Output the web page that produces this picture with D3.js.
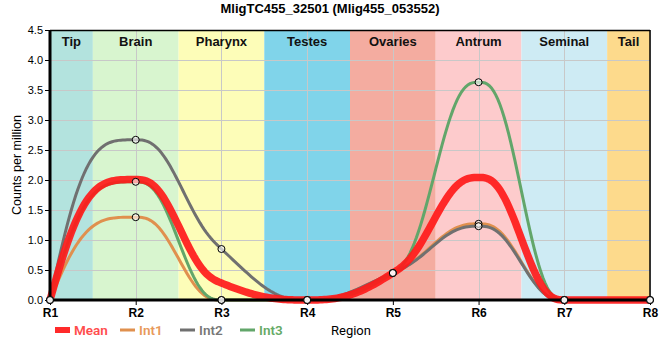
<!DOCTYPE html>
<html><head><meta charset="utf-8">
<script src="https://cdn.jsdelivr.net/npm/d3@7"></script>
<style>body{margin:0;background:#fff;} svg{display:block;font-family:"Liberation Sans",Arial,sans-serif;}</style>
</head><body><svg id="c" width="660" height="360"></svg>
<script>
const title = "MligTC455_32501 (Mlig455_053552)";
const regions = ["R1","R2","R3","R4","R5","R6","R7","R8"];
const tissues = ["Tip","Brain","Pharynx","Testes","Ovaries","Antrum","Seminal","Tail"];
const tissueColors = ["#b3e3de","#d8f5cf","#fdfdb8","#80d4ea","#f4aca0","#fdcbcc","#ceebf4","#fdda8c"];
const yTicks = [0,0.5,1,1.5,2,2.5,3,3.5,4,4.5];
const meanVals = [0,2.007,0.283,0,0.45,2.043,0,0];
const int1Vals = [0,1.38,0,0,0.45,1.27,0,0];
const int2Vals = [0,2.67,0.85,0,0.45,1.23,0,0];
const int3Vals = [0,1.97,0,0,0.45,3.63,0,0];
const seriesNames = ["Mean","Int1","Int2","Int3"];

const svg = d3.select("#c");
const L=50,R=650,T=30,B=300;
const x = d3.scaleLinear().domain([0,regions.length-1]).range([L,R]);
const y = d3.scaleLinear().domain([0,4.5]).range([B,T]);

// smooth monotone-style interpolation (quintic Hermite, zero curvature at knots)
function curveSmooth(ctx){
  let pts;
  return {
    areaStart(){}, areaEnd(){},
    lineStart(){pts=[];},
    point(px,py){pts.push([+px,+py]);},
    lineEnd(){
      const n=pts.length; if(!n) return;
      const s=[],m=new Array(n).fill(0);
      for(let i=0;i<n-1;i++) s.push((pts[i+1][1]-pts[i][1])/(pts[i+1][0]-pts[i][0]));
      const sg=v=>v<0?-1:1;
      for(let i=1;i<n-1;i++){
        const h0=pts[i][0]-pts[i-1][0],h1=pts[i+1][0]-pts[i][0];
        const s0=s[i-1],s1=s[i],p=(s0*h1+s1*h0)/(h0+h1);
        m[i]=(sg(s0)+sg(s1))*Math.min(Math.abs(s0),Math.abs(s1),0.5*Math.abs(p))||0;
      }
      m[0]=2.5*s[0]; m[n-1]=2.5*s[n-2];
      ctx.moveTo(pts[0][0],pts[0][1]);
      const N=40;
      for(let i=0;i<n-1;i++){
        const x0=pts[i][0],x1=pts[i+1][0],y0=pts[i][1],y1=pts[i+1][1],h=x1-x0;
        for(let k=1;k<=N;k++){
          const t=k/N,t3=t*t*t,t4=t3*t,t5=t4*t;
          const H0=1-10*t3+15*t4-6*t5, H5=10*t3-15*t4+6*t5;
          const H1=t-6*t3+8*t4-3*t5, H4=-4*t3+7*t4-3*t5;
          ctx.lineTo(x0+h*t, H0*y0+H5*y1+h*(H1*m[i]+H4*m[i+1]));
        }
      }
    }
  };
}

// bands
const bands = tissues.map((t,i)=>({t,c:tissueColors[i],a:Math.max(0,i-0.5),b:Math.min(regions.length-1,i+0.5)}));
svg.append("g").selectAll("rect").data(bands).join("rect")
  .attr("x",d=>x(d.a)).attr("y",T).attr("width",d=>x(d.b)-x(d.a)).attr("height",B-T).attr("fill",d=>d.c);

// grid
const g = svg.append("g").attr("stroke","#c8c8c8").attr("stroke-width",1);
g.selectAll(".h").data(yTicks).join("line").attr("x1",L).attr("x2",R).attr("y1",d=>y(d)+0.5).attr("y2",d=>y(d)+0.5);
g.selectAll(".v").data(regions.map((r,i)=>i)).join("line").attr("y1",T).attr("y2",B).attr("x1",d=>Math.round(x(d))+0.5).attr("x2",d=>Math.round(x(d))+0.5);

// band labels
svg.append("g").selectAll("text").data(bands).join("text")
  .attr("x",d=>x((d.a+d.b)/2)).attr("y",T+16).attr("text-anchor","middle")
  .attr("font-size",13).attr("font-weight","bold").attr("fill","#111").text(d=>d.t);

// lines
const line = d3.line().x((d,i)=>x(i)).y(d=>y(d)).curve(curveSmooth);
const ints = [
  {v:int1Vals,c:"#e0904e"},
  {v:int2Vals,c:"#707070"},
  {v:int3Vals,c:"#62a66a"}
];
svg.append("g").selectAll("path").data(ints).join("path")
  .attr("d",d=>line(d.v)).attr("fill","none").attr("stroke",d=>d.c).attr("stroke-width",3);
svg.append("path").attr("d",line(meanVals)).attr("fill","none").attr("stroke","#ff1a1a").attr("stroke-opacity",0.92).attr("stroke-width",7.5);

// axes
const ya = svg.append("g").attr("transform",`translate(${L},0)`)
  .call(d3.axisLeft(y).tickValues(yTicks).tickFormat(d3.format(".1f")).tickSize(5).tickPadding(2));
ya.select(".domain").remove();
ya.selectAll("text").attr("font-size",11).attr("fill","#000").attr("font-family","Liberation Sans, Arial");
const xa = svg.append("g").attr("transform",`translate(0,${B})`)
  .call(d3.axisBottom(x).tickValues(regions.map((r,i)=>i)).tickFormat(i=>regions[i]).tickSize(5).tickPadding(3));
xa.select(".domain").remove();
xa.selectAll("text").attr("font-size",12).attr("font-weight","bold").attr("fill","#000").attr("font-family","Liberation Sans, Arial");

// frame
svg.append("line").attr("x1",L).attr("x2",R).attr("y1",T+0.5).attr("y2",T+0.5).attr("stroke","#000").attr("stroke-width",1.5);
svg.append("line").attr("x1",R).attr("x2",R).attr("y1",T).attr("y2",B).attr("stroke","#000").attr("stroke-width",1.5);
svg.append("line").attr("x1",L).attr("x2",L).attr("y1",T).attr("y2",B+1.5).attr("stroke","#000").attr("stroke-width",3);
svg.append("line").attr("x1",L-1.5).attr("x2",R).attr("y1",B).attr("y2",B).attr("stroke","#000").attr("stroke-width",3);

// markers
const pts=[];
ints.forEach(s=>s.v.forEach((v,i)=>pts.push([i,v])));
svg.append("g").selectAll("circle").data(pts).join("circle")
  .attr("cx",d=>x(d[0])).attr("cy",d=>y(d[1])).attr("r",3.5)
  .attr("fill","rgba(255,255,255,0.6)").attr("stroke","#000").attr("stroke-width",1);

// title
svg.append("text").attr("x",330).attr("y",13).attr("text-anchor","middle").attr("font-size",13).attr("font-weight","bold").text(title);
svg.append("text").attr("transform","translate(21,165) rotate(-90)").attr("text-anchor","middle").attr("font-size",12.5).text("Counts per million");

// legend
const leg = [
  {n:seriesNames[0],c:"#ff2a2a",tc:"#ff4d4d",x:55,w:6},
  {n:seriesNames[1],c:"#e0904e",tc:"#e8995a",x:120,w:3},
  {n:seriesNames[2],c:"#707070",tc:"#777777",x:180,w:3},
  {n:seriesNames[3],c:"#62a66a",tc:"#66aa66",x:240,w:3}
];
const lg = svg.append("g").selectAll("g").data(leg).join("g");
lg.append("rect").attr("x",d=>d.x).attr("y",d=>330-d.w/2).attr("width",15).attr("height",d=>d.w).attr("fill",d=>d.c);
lg.append("text").attr("x",d=>d.x+19).attr("y",335).attr("font-size",13.5).attr("font-weight",600).attr("font-family","Roboto, Arial").attr("fill",d=>d.tc).text(d=>d.n);
svg.append("text").attr("x",331).attr("y",335).attr("font-size",13).attr("font-family","Roboto, Arial").attr("fill","#000").text("Region");
</script></body></html>
